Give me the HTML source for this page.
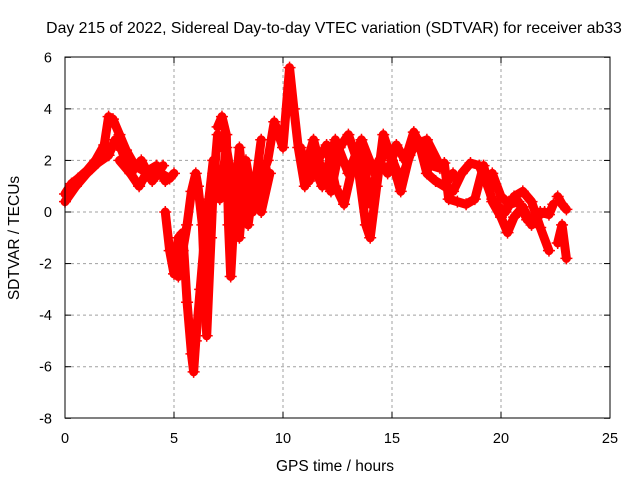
<!DOCTYPE html>
<html><head><meta charset="utf-8"><style>
body{margin:0;background:#fff}
svg{display:block;font-family:"Liberation Sans",sans-serif}
</style></head><body>
<svg id="chart" width="640" height="480">
<text x="334" y="33" font-size="15.8" text-anchor="middle">Day 215 of 2022, Sidereal Day-to-day VTEC variation (SDTVAR) for receiver ab33</text>
<text x="335" y="471" font-size="15.5" text-anchor="middle">GPS time / hours</text>
<text transform="translate(19,238) rotate(-90)" font-size="15.5" text-anchor="middle">SDTVAR / TECUs</text>
<g id="grid"></g><g id="ticks"></g><g id="marks"></g>
<rect x="65" y="57" width="545" height="361" fill="none" stroke="#000" stroke-width="1"/>
</svg>
<script>
const xTicks=[0,5,10,15,20,25];
const yTicks=[-8,-6,-4,-2,0,2,4,6];
const tA=[0,0.3,0.6,1,1.4,1.8,2.0,2.2,2.5,2.8,3.2,3.6,4.0,4.4,4.8,5.0];
const vA=[0.7,1.1,1.3,1.6,2.0,2.6,3.7,3.6,3.0,2.4,1.8,1.6,1.3,1.5,1.3,1.5];
const tB=[0,0.5,1,1.5,2,2.3,2.6,3,3.4,3.8,4.2,4.6];
const vB=[0.4,1.0,1.5,1.9,2.2,2.8,2.4,1.5,1.0,1.6,1.8,1.2];
const tC=[4.6,4.8,5.0,5.2,5.4,5.6,5.8,5.9,6.0,6.2,6.4,6.6,6.8,7.0];
const vC=[0,-1.5,-2.4,-1.0,-0.8,-3.5,-5.5,-6.2,-5.0,-3.0,-1.0,0.5,2.0,1.5];
const tD=[5.2,5.4,5.6,5.8,6.0,6.1,6.3,6.5,6.7,6.8,7.0,7.2];
const vD=[-2.5,-1.5,-0.5,0.8,1.5,1.0,-0.5,-4.8,-1,1.0,3.0,2.5];
const tE=[7.0,7.2,7.4,7.5,7.6,7.8,8.0,8.2,8.4,8.6,8.8,9.0];
const vE=[3.3,3.7,3.0,-0.5,-2.5,0.5,2.5,1.0,-0.5,0.8,1.5,2.8];
const tF=[8.2,8.6,9.0,9.3,9.6,10.0,10.3,10.5,10.7,11.0];
const vF=[1.2,0.0,1.3,2.0,3.5,2.5,5.6,4.0,2.5,1.0];
const tG=[10.8,11.2,11.6,12,12.4,12.8,13.2,13.6,14,14.4,14.8,15.2,15.6,16,16.4,16.8,17.2];
const vG=[2.5,1.2,2.0,2.6,1.0,0.3,1.8,2.6,0.3,2.0,1.5,2.6,2.0,3.1,2.4,1.8,1.7];
const tH=[11.0,11.4,11.8,12.2,12.6,13,13.4,13.8,14.0,14.3,14.6,15,15.4,15.8,16.2,16.6,17,17.4,17.8];
const vH=[1.6,2.8,1.5,0.8,2.5,3.0,2.0,-0.5,-1.0,1.0,3.0,2.0,0.8,2.2,2.8,1.5,1.2,1.0,1.5];
const tI=[17.4,17.8,18.2,18.6,19,19.3,19.6,19.9,20.2,20.6,21,21.4,21.8,22.2];
const vI=[1.0,0.8,1.5,1.9,1.8,1.2,0.5,0.2,0.0,0.6,0.8,0.4,-0.6,-1.5];
const tJ=[17.4,17.6,18,18.4,18.8,19.2,19.6,20,20.3,20.6,21,21.4,21.8,22.2,22.4];
const vJ=[1.9,0.5,0.4,0.3,0.5,1.8,0.4,-0.2,-0.8,-0.2,0.2,-0.5,0.0,-0.1,0.3];
const tK=[22.6,22.8,23.0];
const vK=[0.6,0.3,0.1];
const tL=[22.6,22.8,23.0];
const vL=[-1.2,-0.5,-1.8];
const tM=[11.2,11.8,12.4,13,13.6,14.2,14.8,15.4,16,16.6,17.2];
const vM=[2.2,1.0,2.8,1.5,2.8,1.5,2.5,1.2,2.6,2.8,1.8];
const tN=[2.5,3,3.5,4,4.5];
const vN=[2.0,1.5,2.0,1.2,1.8];
const tO=[6.5,6.8,7.1,7.4,7.7,8.0,8.3,8.6,9.0,9.4];
const vO=[0,1.5,0.5,2.5,1.0,-1.0,2.0,0.5,0.0,1.5];
const tP=[19.6,20,20.4,20.8,21.2,21.6,22];
const vP=[1.5,0.6,0.3,0.4,-0.3,-0.2,0.0];
const series=[[tA,vA],[tB,vB],[tC,vC],[tD,vD],[tE,vE],[tF,vF],[tG,vG],[tH,vH],[tI,vI],[tJ,vJ],[tK,vK],[tL,vL],[tM,vM],[tN,vN],[tO,vO],[tP,vP]];
const NS='http://www.w3.org/2000/svg';
const X=t=>65+t*545/25;
const Y=v=>212-v*361/14;
function mk(tag,attrs,parent){const e=document.createElementNS(NS,tag);for(const k in attrs)e.setAttribute(k,attrs[k]);parent.appendChild(e);return e;}
const grid=document.getElementById('grid'),ticks=document.getElementById('ticks'),marks=document.getElementById('marks');
xTicks.forEach(t=>{
  if(t>0&&t<25){const g=mk('line',{x1:X(t),x2:X(t),y1:57,y2:418,stroke:'#a0a0a0','stroke-dasharray':'3,3'},grid);
  
  }
  const l=mk('text',{x:X(t),y:443,'font-size':14.5,'text-anchor':'middle'},ticks);l.textContent=t;
  
  
  mk('line',{x1:X(t),x2:X(t),y1:418,y2:412,stroke:'#000'},ticks);
  mk('line',{x1:X(t),x2:X(t),y1:57,y2:63,stroke:'#000'},ticks);
});
yTicks.forEach(v=>{
  if(v>-8&&v<6){const g=mk('line',{x1:65,x2:610,y1:Y(v),y2:Y(v),stroke:'#a0a0a0','stroke-dasharray':'3,3'},grid);
  
  }
  const l=mk('text',{x:52,y:Y(v)+5,'font-size':14.5,'text-anchor':'end'},ticks);l.textContent=v;
  
  
  mk('line',{x1:65,x2:71,y1:Y(v),y2:Y(v),stroke:'#000'},ticks);
  mk('line',{x1:610,x2:604,y1:Y(v),y2:Y(v),stroke:'#000'},ticks);
});
series.forEach((s,i)=>{
  const pts=s[0].map((t,j)=>X(t)+','+Y(s[1][j])).join(' ');
  const pl=mk('polyline',{points:pts,fill:'none',stroke:'#f00','stroke-width':9,'stroke-linejoin':'round','stroke-linecap':'round'},marks);
  
  
  s[0].forEach((t,j)=>{
    const x=X(t),y=Y(s[1][j]);
    const p=mk('path',{d:`M${x-6},${y}H${x+6}M${x},${y-6}V${y+6}`,stroke:'#f00','stroke-width':1.5},marks);
    
    
  });
});
</script>
</body></html>
